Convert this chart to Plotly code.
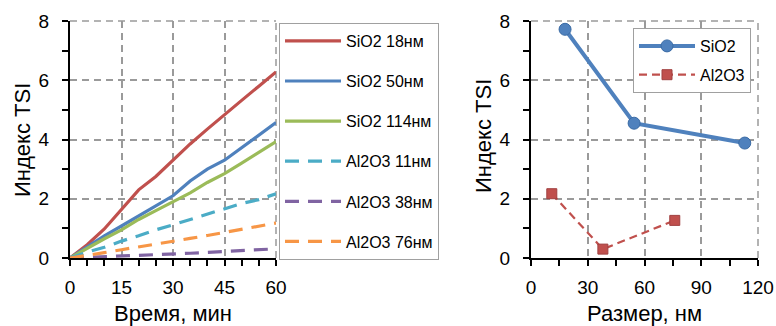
import plotly.graph_objects as go

# ---------------- data ----------------
time_min = [0, 5, 10, 15, 20, 25, 30, 35, 40, 45, 50, 55, 60]
sio2_18 = [0, 0.45, 0.98, 1.62, 2.30, 2.75, 3.30, 3.85, 4.35, 4.85, 5.32, 5.80, 6.28]
sio2_50 = [0, 0.38, 0.75, 1.08, 1.42, 1.75, 2.10, 2.60, 3.00, 3.30, 3.72, 4.15, 4.57]
sio2_114 = [0, 0.33, 0.65, 0.95, 1.30, 1.60, 1.90, 2.20, 2.55, 2.85, 3.20, 3.55, 3.93]
al2o3_11 = [0, 0.20, 0.36, 0.57, 0.75, 0.95, 1.12, 1.30, 1.50, 1.68, 1.84, 1.97, 2.17]
al2o3_38 = [0, 0.02, 0.05, 0.07, 0.09, 0.11, 0.14, 0.16, 0.19, 0.22, 0.25, 0.28, 0.31]
al2o3_76 = [0, 0.08, 0.18, 0.28, 0.37, 0.46, 0.56, 0.66, 0.76, 0.86, 0.97, 1.08, 1.18]

size_sio2 = [18, 54.5, 113]
tsi_sio2 = [7.72, 4.55, 3.88]
size_al2o3 = [11, 38, 76]
tsi_al2o3 = [2.17, 0.30, 1.27]

left_names = ["SiO2 18нм", "SiO2 50нм", "SiO2 114нм", "Al2O3 11нм", "Al2O3 38нм", "Al2O3 76нм"]
left_series = [sio2_18, sio2_50, sio2_114, al2o3_11, al2o3_38, al2o3_76]
left_colors = ["#C0504D", "#4F81BD", "#9BBB59", "#4BACC6", "#8064A2", "#F79646"]
left_dash = ["solid", "solid", "solid", "14px,9px", "14px,9px", "14px,9px"]

FONT = "Liberation Sans, Arial, sans-serif"
W, H = 776, 326
GRID = "#9A9A9A"

fig = go.Figure()

for i, (name, ys) in enumerate(zip(left_names, left_series)):
    fig.add_trace(go.Scatter(
        x=time_min, y=ys, name=name, mode="lines",
        line=dict(color=left_colors[i], width=3.2, dash=left_dash[i]),
        legend="legend", legendgroup=f"g{i}",
        xaxis="x", yaxis="y"))

fig.add_trace(go.Scatter(
    x=size_sio2, y=tsi_sio2, name="SiO2", mode="lines+markers",
    line=dict(color="#4F81BD", width=4),
    marker=dict(symbol="circle", size=12, color="#4F81BD", line=dict(color="#3A6BA5", width=1)),
    legend="legend2", legendgroup="r1", xaxis="x2", yaxis="y2"))
fig.add_trace(go.Scatter(
    x=size_al2o3, y=tsi_al2o3, name="Al2O3", mode="lines+markers",
    line=dict(color="#C0504D", width=2.2, dash="8px,5px"),
    marker=dict(symbol="square", size=10, color="#C0504D", line=dict(color="#A04040", width=1)),
    legend="legend2", legendgroup="r2", xaxis="x2", yaxis="y2"))

grid = dict(showgrid=True, gridcolor=GRID, gridwidth=1.5, griddash="7px,5px",
            zeroline=False, showline=True, linecolor="black", linewidth=2,
            ticks="outside", ticklen=6, tickwidth=1.5, tickcolor="black",
            automargin=False, layer="below traces",
            tickfont=dict(family=FONT, size=19, color="black"))

y_top = (H - 21) / H
y_bot = (H - 258) / H

def minor(d):
    return dict(ticks="outside", dtick=d, ticklen=6, tickwidth=1.5, tickcolor="black", showgrid=False)

shapes = []
for xr, yr in (("x", "y"), ("x2", "y2")):
    # dashed frame lines at the far ends of the axes (top and right), like the gridlines
    shapes.append(dict(type="line", xref=f"{xr} domain", yref=f"{yr} domain", x0=0, x1=1, y0=1, y1=1,
                       line=dict(color=GRID, width=1.5, dash="7px,5px"), layer="below"))
    shapes.append(dict(type="line", xref=f"{xr} domain", yref=f"{yr} domain", x0=1, x1=1, y0=0, y1=1,
                       line=dict(color=GRID, width=1.5, dash="7px,5px"), layer="below"))

fig.update_layout(
    template="plotly",
    width=W, height=H, margin=dict(l=0, r=0, t=0, b=0, autoexpand=False),
    paper_bgcolor="white", plot_bgcolor="white",
    font=dict(family=FONT, color="black"),
    xaxis=dict(domain=[70 / W, 276 / W], range=[0, 60], tickvals=[0, 15, 30, 45, 60],
               minor=minor(5), ticklabelstandoff=5, anchor="y", **grid),
    yaxis=dict(domain=[y_bot, y_top], range=[0, 8], tickvals=[0, 2, 4, 6, 8],
               minor=minor(1), ticklabelstandoff=9, anchor="x", **grid),
    xaxis2=dict(domain=[531 / W, 758 / W], range=[0, 120], tickvals=[0, 30, 60, 90, 120],
                minor=minor(15), ticklabelstandoff=5, anchor="y2", **grid),
    yaxis2=dict(domain=[y_bot, y_top], range=[0, 8], tickvals=[0, 2, 4, 6, 8],
                minor=minor(1), ticklabelstandoff=9, anchor="x2", **grid),
    legend=dict(x=279 / W, y=(H - 23) / H, xanchor="left", yanchor="top",
                bgcolor="white", bordercolor="#A0A0A0", borderwidth=1,
                font=dict(family=FONT, size=16, color="black"),
                itemwidth=56, tracegroupgap=16.3),
    legend2=dict(x=633 / W, y=(H - 28) / H, xanchor="left", yanchor="top",
                 bgcolor="white", bordercolor="#A0A0A0", borderwidth=1,
                 font=dict(family=FONT, size=16, color="black"),
                 itemwidth=56, tracegroupgap=5),
    showlegend=True,
    shapes=shapes,
    annotations=[
        dict(text="Индекс TSI", x=22 / W, y=(H - 140) / H, xref="paper", yref="paper",
             textangle=-90, showarrow=False, font=dict(family=FONT, size=22, color="black"),
             xanchor="center", yanchor="middle"),
        dict(text="Индекс TSI", x=483 / W, y=(H - 136) / H, xref="paper", yref="paper",
             textangle=-90, showarrow=False, font=dict(family=FONT, size=22, color="black"),
             xanchor="center", yanchor="middle"),
        dict(text="Время, мин", x=173 / W, y=(H - 313.5) / H, xref="paper", yref="paper",
             showarrow=False, font=dict(family=FONT, size=22, color="black"),
             xanchor="center", yanchor="middle"),
        dict(text="Размер, нм", x=644 / W, y=(H - 313.5) / H, xref="paper", yref="paper",
             showarrow=False, font=dict(family=FONT, size=22, color="black"),
             xanchor="center", yanchor="middle"),
    ],
)

fig.write_html("out.html", config={"displayModeBar": False},
               post_script="document.body.style.margin='0px';document.body.style.overflow='hidden';")
